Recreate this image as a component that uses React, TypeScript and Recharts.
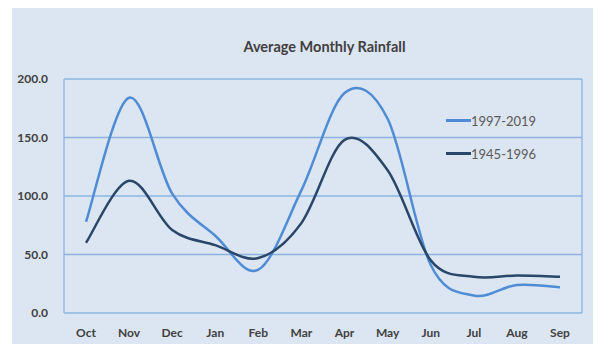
import React from 'react';
import { LineChart, Line, XAxis, YAxis, CartesianGrid, Legend } from 'recharts';

const months = ['Oct', 'Nov', 'Dec', 'Jan', 'Feb', 'Mar', 'Apr', 'May', 'Jun', 'Jul', 'Aug', 'Sep'];
const recent = [78, 184, 102, 66, 37, 105, 188, 166, 41, 15, 24, 22];
const older = [60, 113, 71, 58, 47, 77, 148, 122, 45, 31, 32, 31];
const yTicks = [0, 50, 100, 150, 200];
const seriesOrder = ['1997-2019', '1945-1996'];

const data = months.map((m, i) => ({ month: m, recent: recent[i], older: older[i] }));

const FONT = 'Lato, "Open Sans", sans-serif';

// Excel-like smoothed line (Catmull-Rom through every point)
const smoothCurve = (context: any) => {
  let pts: number[][] = [];
  return {
    areaStart() {},
    areaEnd() {},
    lineStart() {
      pts = [];
    },
    point(x: number, y: number) {
      pts.push([+x, +y]);
    },
    lineEnd() {
      const n = pts.length;
      if (!n) return;
      context.moveTo(pts[0][0], pts[0][1]);
      for (let i = 0; i < n - 1; i++) {
        const p0 = pts[i - 1] || pts[i];
        const p1 = pts[i];
        const p2 = pts[i + 1];
        const p3 = pts[i + 2] || p2;
        context.bezierCurveTo(
          p1[0] + (p2[0] - p0[0]) / 6,
          p1[1] + (p2[1] - p0[1]) / 6,
          p2[0] - (p3[0] - p1[0]) / 6,
          p2[1] - (p3[1] - p1[1]) / 6,
          p2[0],
          p2[1]
        );
      }
    },
  };
};

const LegendContent = ({ payload }: any) => {
  const items = [...(payload || [])].sort(
    (a: any, b: any) => seriesOrder.indexOf(a.value) - seriesOrder.indexOf(b.value)
  );
  return (
    <div style={{ fontFamily: FONT, fontSize: 13, color: '#595959' }}>
      {items.map((p: any) => (
        <div key={p.value} style={{ display: 'flex', alignItems: 'center', height: 33 }}>
          <span style={{ display: 'inline-block', width: 25, height: 3, background: p.color }} />
          <span>{p.value}</span>
        </div>
      ))}
    </div>
  );
};

export default function App() {
  return (
    <div style={{ position: 'fixed', left: 0, top: 0, width: 603, height: 344, background: '#fff', overflow: 'hidden' }}>
      <div style={{ position: 'absolute', left: 12, top: 8, width: 581, height: 336, background: '#dce6f2' }}>
        <div
          style={{
            position: 'absolute',
            left: 0,
            width: 581,
            top: 30,
            textAlign: 'center',
            fontFamily: FONT,
            fontWeight: 700,
            fontSize: 14.5,
            color: '#404040',
            paddingLeft: 22,
          }}
        >
          Average Monthly Rainfall
        </div>
        <LineChart width={581} height={336} data={data} margin={{ top: 71, right: 11, left: 0, bottom: 0 }}>
          <CartesianGrid
            stroke="#8db3e2"
            strokeWidth={1.3}
            verticalCoordinatesGenerator={({ offset }: any) => [offset.left, offset.left + offset.width]}
          />
          <XAxis
            dataKey="month"
            padding={{ left: 22, right: 22 }}
            axisLine={false}
            tickLine={false}
            tickMargin={9}
            height={31}
            tick={{ fill: '#404040', fontSize: 12, fontWeight: 700, fontFamily: FONT }}
          />
          <YAxis
            domain={[0, 200]}
            ticks={yTicks}
            width={52}
            axisLine={false}
            tickLine={false}
            tickMargin={10}
            tickFormatter={(v: number) => v.toFixed(1)}
            tick={{ fill: '#404040', fontSize: 12, fontWeight: 700, fontFamily: FONT }}
          />
          <Legend
            layout="vertical"
            content={<LegendContent />}
            wrapperStyle={{ left: 434, top: 96, width: 110, height: 0, overflow: 'visible' }}
          />
          <Line
            type={smoothCurve as any}
            dataKey="recent"
            name="1997-2019"
            stroke="#4f8cd4"
            strokeWidth={2.5}
            dot={false}
            isAnimationActive={false}
          />
          <Line
            type={smoothCurve as any}
            dataKey="older"
            name="1945-1996"
            stroke="#2a4668"
            strokeWidth={2.5}
            dot={false}
            isAnimationActive={false}
          />
        </LineChart>
      </div>
    </div>
  );
}
